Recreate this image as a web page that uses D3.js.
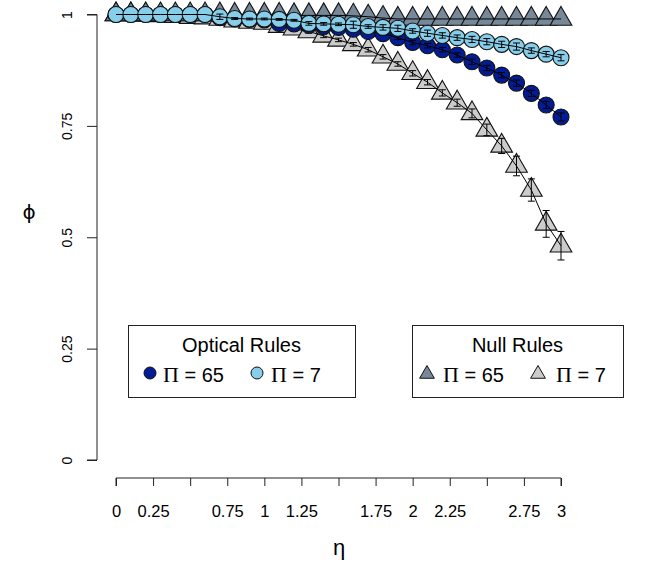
<!DOCTYPE html>
<html>
<head>
<meta charset="utf-8">
<script src="https://cdn.jsdelivr.net/npm/d3@7"></script>
<style>
  html, body { margin: 0; padding: 0; background: #fff; }
  svg { display: block; }
  text { font-family: "Liberation Sans", Arial, Helvetica, sans-serif; fill: #000; }
  .serif { font-family: "Liberation Serif", "Times New Roman", serif; }
</style>
</head>
<body>
<svg id="chart" width="649" height="569"></svg>
<script>
// η grid
const eta = [0, 0.1, 0.2, 0.3, 0.4, 0.5, 0.6, 0.7, 0.8, 0.9, 1.0,
             1.1, 1.2, 1.3, 1.4, 1.5, 1.6, 1.7, 1.8, 1.9, 2.0,
             2.1, 2.2, 2.3, 2.4, 2.5, 2.6, 2.7, 2.8, 2.9, 3.0];

// mean φ per rule set
const optical65 = [1, 1, 1, 1, 1, 1, 1, 0.993, 0.990, 0.989, 0.988,
                   0.980, 0.979, 0.976, 0.973, 0.971, 0.967, 0.962, 0.957, 0.948, 0.937,
                   0.930, 0.921, 0.909, 0.894, 0.880, 0.864, 0.846, 0.823, 0.797, 0.770];
const optical7  = [1, 1, 1, 1, 1, 1, 1, 0.995, 0.991, 0.990, 0.990,
                   0.989, 0.987, 0.980, 0.979, 0.978, 0.977, 0.973, 0.971, 0.969, 0.963,
                   0.958, 0.953, 0.948, 0.944, 0.939, 0.933, 0.928, 0.919, 0.911, 0.903];
const null65    = [1, 1, 1, 1, 1, 1, 1, 1, 0.999, 0.999, 0.999,
                   0.999, 0.998, 0.998, 0.998, 0.998, 0.997, 0.995, 0.992, 0.990, 0.990,
                   0.990, 0.990, 0.990, 0.990, 0.990, 0.990, 0.990, 0.990, 0.990, 0.990];
const null7     = [1, 1, 0.999, 0.998, 0.996, 0.994, 0.993, 0.990, 0.986, 0.983, 0.981,
                   0.974, 0.968, 0.962, 0.952, 0.943, 0.933, 0.921, 0.905, 0.889, 0.868,
                   0.848, 0.824, 0.802, 0.778, 0.741, 0.705, 0.660, 0.606, 0.530, 0.481];

// standard errors
const errOptical65 = [0, 0, 0, 0, 0, 0, 0, 0.002, 0.002, 0.002, 0.002,
                      0.003, 0.003, 0.003, 0.003, 0.003, 0.003, 0.004, 0.004, 0.004, 0.005,
                      0.005, 0.005, 0.005, 0.006, 0.006, 0.006, 0.007, 0.007, 0.008, 0.009];
const errOptical7  = [0, 0, 0, 0, 0, 0, 0, 0.006, 0.002, 0.002, 0.002,
                      0.002, 0.002, 0.004, 0.003, 0.003, 0.008, 0.004, 0.006, 0.007, 0.005,
                      0.007, 0.006, 0.006, 0.007, 0.007, 0.007, 0.008, 0.006, 0.006, 0.007];
const errNull65    = [0, 0, 0, 0, 0, 0, 0, 0, 0, 0, 0,
                      0, 0, 0, 0, 0, 0.001, 0.001, 0.001, 0.001, 0,
                      0, 0, 0, 0, 0, 0, 0, 0, 0, 0];
const errNull7     = [0, 0, 0.001, 0.001, 0.002, 0.002, 0.002, 0.002, 0.003, 0.003, 0.003,
                      0.003, 0.003, 0.004, 0.004, 0.004, 0.004, 0.005, 0.005, 0.005, 0.006,
                      0.006, 0.007, 0.008, 0.010, 0.013, 0.017, 0.022, 0.025, 0.030, 0.032];

const xTicks = [0, 0.25, 0.5, 0.75, 1, 1.25, 1.5, 1.75, 2, 2.25, 2.5, 2.75, 3];
const xTickLabels = ["0", "0.25", "", "0.75", "1", "1.25", "", "1.75", "2", "2.25", "", "2.75", "3"];
const yTicks = [0, 0.25, 0.5, 0.75, 1];
const yTickLabels = ["0", "0.25", "0.5", "0.75", "1"];

const colDark = "#021c96", colLight = "#87ceeb", colSlate = "#778899", colGrey = "#cccccc";

const svg = d3.select("#chart");
const x = d3.scaleLinear().domain([0, 3]).range([116, 561]);
const y = d3.scaleLinear().domain([0, 1]).range([460, 14.5]);

// axes
const yAxis = d3.axisLeft(y).tickValues(yTicks).tickSize(10)
  .tickFormat((d, i) => yTickLabels[i]);
const gy = svg.append("g").attr("transform", "translate(97,0)").call(yAxis);
gy.select(".domain").attr("stroke", "#222").attr("d", `M-10,${y(0)}H0V${y(1)}H-10`);
gy.selectAll(".tick line").attr("stroke", "#222");
gy.selectAll(".tick text")
  .attr("x", null).attr("dy", null)
  .attr("transform", "translate(-25,0) rotate(-90)")
  .attr("text-anchor", "middle")
  .style("font-size", "14px");

const xAxis = d3.axisBottom(x).tickValues(xTicks).tickSize(8)
  .tickFormat((d, i) => xTickLabels[i]);
const gx = svg.append("g").attr("transform", "translate(0,478)").call(xAxis);
gx.select(".domain").attr("stroke", "#222").attr("d", `M${x(0)},8V0H${x(3)}V8`);
gx.selectAll(".tick line").attr("stroke", "#222");
gx.selectAll(".tick text").attr("y", 39).attr("dy", null).style("font-size", "16.5px");

svg.append("text").attr("x", 339).attr("y", 555).attr("text-anchor", "middle")
  .style("font-size", "22px").text("η");
svg.append("text").attr("x", 29).attr("y", 219).attr("text-anchor", "middle")
  .style("font-family", "'DejaVu Sans', sans-serif")
  .style("font-size", "20px").text("ϕ");

// markers
const triR = 12.5;
function triPath(r) {
  const h = r * Math.sqrt(3) / 2;
  return `M0,${-r}L${h},${r / 2}L${-h},${r / 2}Z`;
}

const series = [
  { vals: null7,     err: errNull7,     shape: "tri",    fill: colGrey },
  { vals: null65,    err: errNull65,    shape: "tri",    fill: colSlate },
  { vals: optical65, err: errOptical65, shape: "circle", fill: colDark },
  { vals: optical7,  err: errOptical7,  shape: "circle", fill: colLight }
];

const line = d3.line().x((d, i) => x(eta[i])).y(d => y(d));

series.forEach(s => {
  const g = svg.append("g");
  const pts = s.vals.map((v, i) => ({ t: eta[i], v, e: s.err[i] }));
  if (s.shape === "circle") {
    g.selectAll("circle").data(pts).join("circle")
      .attr("cx", d => x(d.t)).attr("cy", d => y(d.v)).attr("r", 8)
      .attr("fill", s.fill).attr("stroke", "#111").attr("stroke-width", 1.1);
  } else {
    g.selectAll("path.m").data(pts).join("path").attr("class", "m")
      .attr("transform", d => `translate(${x(d.t)},${y(d.v)})`)
      .attr("d", triPath(triR))
      .attr("fill", s.fill).attr("stroke", "#111").attr("stroke-width", 1.1);
  }
  g.append("path").attr("d", line(s.vals)).attr("fill", "none")
    .attr("stroke", "#000").attr("stroke-width", 1);
  const bars = pts.filter(d => (y(d.v - d.e) - y(d.v)) > 0.6);
  const cap = 3.5;
  g.selectAll("path.eb").data(bars).join("path").attr("class", "eb")
    .attr("d", d => {
      const cx = x(d.t), y0 = y(d.v - d.e), y1 = y(d.v + d.e);
      return `M${cx},${y0}V${y1}M${cx - cap},${y0}H${cx + cap}M${cx - cap},${y1}H${cx + cap}`;
    })
    .attr("fill", "none").attr("stroke", "#000").attr("stroke-width", 1);
});

// legends
function legendBox(x0, x1, title, items) {
  const g = svg.append("g");
  g.append("rect").attr("x", x0 + 0.5).attr("y", 325.5).attr("width", x1 - x0).attr("height", 72)
    .attr("fill", "#fff").attr("stroke", "#222").attr("stroke-width", 1);
  g.append("text").attr("x", (x0 + x1) / 2).attr("y", 352).attr("text-anchor", "middle")
    .style("font-size", "20px").text(title);
  items.forEach(it => {
    if (it.shape === "circle") {
      g.append("circle").attr("cx", it.mx).attr("cy", 373).attr("r", 6)
        .attr("fill", it.fill).attr("stroke", "#111").attr("stroke-width", 1);
    } else {
      g.append("path").attr("transform", `translate(${it.mx},374)`).attr("d", triPath(8.5))
        .attr("fill", it.fill).attr("stroke", "#111").attr("stroke-width", 1);
    }
    const t = g.append("text").attr("x", it.tx).attr("y", 382).style("font-size", "20px");
    t.append("tspan").attr("class", "serif").style("font-size", "22px").text("Π");
    t.append("tspan").text(" = " + it.label);
  });
}
legendBox(128, 355, "Optical Rules", [
  { shape: "circle", fill: colDark, mx: 150, tx: 163, label: "65" },
  { shape: "circle", fill: colLight, mx: 257, tx: 271, label: "7" }
]);
legendBox(412, 623, "Null Rules", [
  { shape: "tri", fill: colSlate, mx: 427, tx: 443, label: "65" },
  { shape: "tri", fill: colGrey, mx: 538, tx: 556, label: "7" }
]);
</script>
</body>
</html>
